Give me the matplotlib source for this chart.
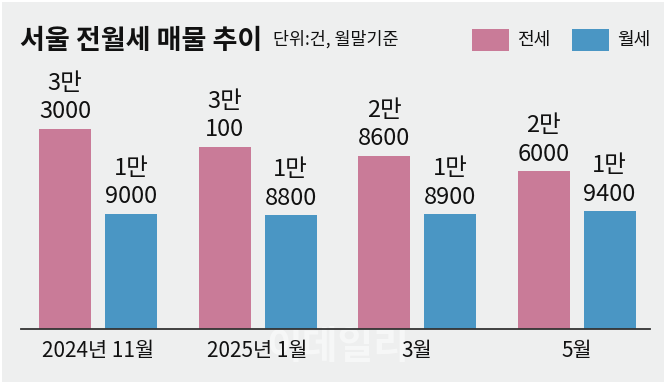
import matplotlib.pyplot as plt
import numpy as np
from matplotlib.patches import Rectangle

plt.rcParams["font.family"] = ["Noto Sans CJK KR", "DejaVu Sans"]
plt.rcParams["axes.unicode_minus"] = False

months = ["2024년 11월", "2025년 1월", "3월", "5월"]
jeonse = [33000, 30100, 28600, 26000]
wolse = [19000, 18800, 18900, 19400]
series_names = ["전세", "월세"]

PINK = "#c97b98"
BLUE = "#4a96c4"
BG = "#eeefef"

W, H = 670, 385
fig = plt.figure(figsize=(W / 100, H / 100), dpi=100)
fig.patch.set_facecolor("white")


def px(x, y):
    # 픽셀 좌표(위쪽 원점) -> figure 좌표
    return x / W, 1 - y / H


# 회색 배경 패널
fig.patches.append(Rectangle((2 / W, 3 / H), 662 / W, 380 / H,
                             transform=fig.transFigure, facecolor=BG,
                             edgecolor="none", zorder=-5))

# 축: 기준선 y=329px, x 21~650px
left, bottom = px(21, 329)
ax = fig.add_axes([left, bottom, (650 - 21) / W, (329 - 60) / H])
ax.set_facecolor("none")
ax.set_zorder(2)

spacing = 159.5
x = np.arange(len(months))
bw = 52 / spacing
off = 33 / spacing
ax.bar(x - off, jeonse, bw, color=PINK, zorder=2)
ax.bar(x + off, wolse, bw, color=BLUE, zorder=2)

ax.set_xlim(-77 / spacing, 3 + 73.5 / spacing)
ax.set_ylim(0, 269 / (200 / 33000))

for xs, vals in ((x - off, jeonse), (x + off, wolse)):
    for xi, v in zip(xs, vals):
        ax.annotate(f"{v // 10000}만\n{v % 10000}", (xi, v), xytext=(0, 4),
                    textcoords="offset points", ha="center", va="bottom",
                    fontsize=17, fontweight=500, linespacing=1.3,
                    color="#111111")

for s in ["top", "right", "left"]:
    ax.spines[s].set_visible(False)
ax.spines["bottom"].set_color("#333333")
ax.spines["bottom"].set_linewidth(1.3)
ax.set_yticks([])
ax.set_xticks(x)
ax.set_xticklabels(months, fontsize=15, fontweight=500, color="#111111")
ax.tick_params(axis="x", length=0, pad=8)

# 제목
fig.text(*px(20, 41), "서울 전월세 매물 추이", fontsize=19.5, fontweight="bold",
         va="center", ha="left", color="#111111")
fig.text(*px(273, 39), "단위:건, 월말기준", fontsize=12.5, fontweight=500,
         va="center", ha="left", color="#111111")

# 범례
for (lx, name, c) in ((472, series_names[0], PINK), (572, series_names[1], BLUE)):
    fig.patches.append(Rectangle(px(lx, 51), 37 / W, 22 / H,
                                 transform=fig.transFigure, facecolor=c,
                                 edgecolor="none"))
    fig.text(*px(lx + 45, 40), name, fontsize=13, fontweight=500,
             va="center", ha="left", color="#111111")

# 워터마크 (라벨 아래에 옅게)
fig.text(*px(338, 347), "이데일리", fontsize=28, fontweight="bold",
         ha="center", va="center", color="white", alpha=0.5, zorder=1)

fig.savefig("out.png", dpi=100, facecolor=fig.get_facecolor())
